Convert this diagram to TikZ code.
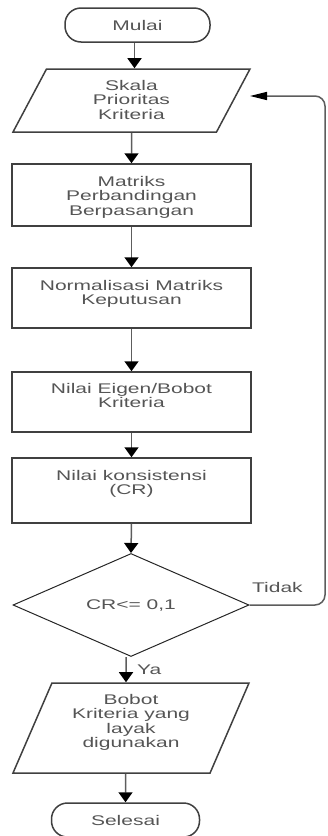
\documentclass[tikz,border=0pt]{standalone}
\usepackage{fontspec}
\setmainfont{Liberation Sans}[FakeStretch=1.5]
\usetikzlibrary{arrows.meta}
\usetikzlibrary{positioning, shapes.geometric}

\definecolor{txtgray}{RGB}{85,85,85}
\definecolor{linegray}{RGB}{64,64,64}

\tikzset{
  base/.style={draw=linegray, line width=1.5pt, text=txtgray, align=center, font=\fontsize{14pt}{14.5pt}\selectfont},
  terminal/.style={base, rectangle, rounded corners=16pt, minimum height=34pt},
  procbox/.style={base, rectangle, minimum width=239pt, inner ysep=4pt},
  iobox/.style={base, trapezium, trapezium stretches body, inner ysep=4pt},
  decision/.style={base, diamond, draw=black!85, line width=1pt, minimum width=236pt, minimum height=103pt, inner sep=0pt},
  lbl/.style={text=txtgray, font=\fontsize{14pt}{14.5pt}\selectfont},
  flow/.style={draw=linegray!85, line width=1.5pt, -{Triangle[width=14pt, length=10pt, color=black]}},
  backflow/.style={draw=linegray!85, line width=1.5pt, rounded corners=10pt, -{Triangle[width=8pt, length=17pt, color=black]}}
}

\begin{document}
\begin{tikzpicture}[x=1pt, y=-1pt]
	\useasboundingbox (0,0) rectangle (327,836);

	% --- Start / input ---
	\node[terminal, minimum width=145pt] (mulai) at (137.5,25) {Mulai};
	\node[iobox, trapezium left angle=62, trapezium right angle=118, minimum width=237pt, text height=46pt, text depth=9pt] (skala) at (131.5,100.5) {Skala\\Prioritas\\Kriteria};

	% --- Process steps ---
	\node[procbox, text height=47pt, text depth=7pt] (matriks) at (131.5,195) {Matriks\\Perbandingan\\Berpasangan};
	\node[procbox, text height=32.5pt, text depth=19.5pt] (normal) at (131.5,298) {Normalisasi Matriks\\Keputusan};
	\node[procbox, text height=31.5pt, text depth=20.5pt] (eigen) at (131.5,402) {Nilai Eigen/Bobot\\Kriteria};
	\node[procbox, text height=32.5pt, text depth=24.5pt] (konsist) at (131.5,490.5) {Nilai konsistensi\\(CR)};

	% --- Decision ---
	\node[decision] (cek) at (131,605) {CR<= 0,1};

	% --- Output / end ---
	\node[iobox, trapezium left angle=66.6, trapezium right angle=113.4, minimum width=236pt, text height=60.5pt, text depth=21.5pt] (bobot) at (131,728) {Bobot\\Kriteria yang\\layak\\digunakan};
	\node[terminal, minimum width=148pt] (selesai) at (125.5,820) {Selesai};

	\coordinate (loopin) at (250,96);
	\coordinate (loopx) at (325,0);

	% --- Arrows ---
	\draw[flow] ([xshift=-3pt]mulai.south) -- ([xshift=-3pt]mulai.south |- skala.north);
	\draw[flow] (skala.south) -- (matriks.north);
	\draw[flow] (matriks.south) -- (normal.north);
	\draw[flow] (normal.south) -- (eigen.north);
	\draw[flow] (eigen.south) -- (konsist.north);
	\draw[flow] (konsist.south) -- (cek.north);
	\draw[flow] ([xshift=-5pt]cek.south) -- node[lbl, right=7pt] {Ya} ([xshift=-5pt]bobot.north);
	\draw[flow] ([xshift=-5.5pt]bobot.south) -- (selesai.north);

	% back to the input when CR is too large
	\draw[backflow] (cek.east) -- node[lbl, above=8pt, pos=0.37] {Tidak} (cek.east -| loopx) -- (loopx |- loopin) -- (loopin);
\end{tikzpicture}
\end{document}
